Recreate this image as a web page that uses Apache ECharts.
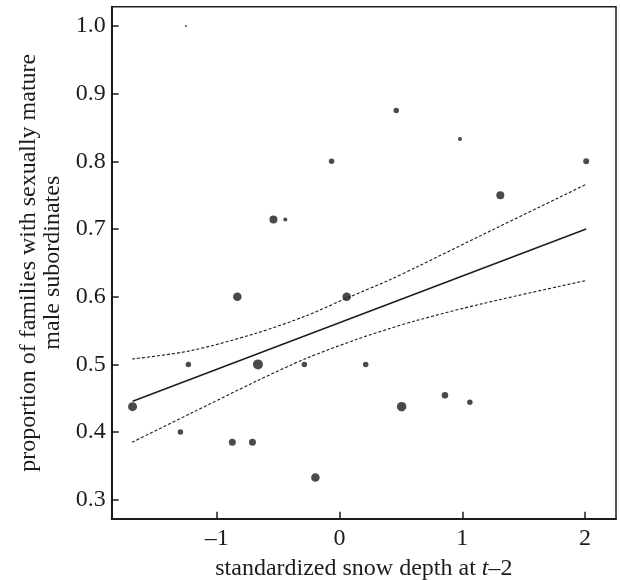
<!DOCTYPE html>
<html>
<head>
<meta charset="utf-8">
<script src="https://cdn.jsdelivr.net/npm/echarts@6/dist/echarts.min.js"></script>
<style>html,body{margin:0;padding:0;background:#fff}#c{width:620px;height:580px}</style>
</head>
<body>
<div id="c"></div>
<script>
// observed points: standardized snow depth (x), proportion (y), marker size (sample weight)
var xs = [-1.252, 0.462, 0.981, -0.065, 2.01, 1.31, -0.539, -0.442, -0.833, 0.058, -1.232, -0.665, -0.287, 0.213, -1.687, 0.506, 0.859, 1.062, -1.297, -0.874, -0.710, -0.197];
var ys = [1.0, 0.875, 0.833, 0.80, 0.80, 0.75, 0.714, 0.714, 0.60, 0.60, 0.50, 0.50, 0.50, 0.50, 0.4375, 0.4375, 0.4545, 0.444, 0.40, 0.385, 0.385, 0.333];
var sizes = [2, 5.5, 4, 5.5, 6, 8, 8, 4, 8.5, 8.5, 5.5, 10, 5.5, 5.5, 9, 9.5, 6.5, 5.5, 5.5, 7, 7, 8.5];
// fitted line
var fitX = [-1.686, 2.01];
var fitY = [0.4455, 0.700];
// confidence band
var upX = [-1.69, -1.22, -0.68, -0.27, 0.06, 0.41, 0.63, 1.17, 2.01];
var upY = [0.508, 0.520, 0.546, 0.572, 0.598, 0.625, 0.644, 0.692, 0.766];
var loX = [-1.69, -1.22, -0.68, -0.27, 0.14, 0.41, 0.63, 1.17, 2.01];
var loY = [0.385, 0.427, 0.475, 0.509, 0.537, 0.553, 0.565, 0.590, 0.624];
var xTicks = [-1, 0, 1, 2];
var yTicks = [0.3, 0.4, 0.5, 0.6, 0.7, 0.8, 0.9, 1.0];

function zip(a, b) { return a.map(function (v, i) { return [v, b[i]]; }); }
var ink = '#1f1b1c';
var font = 'Liberation Serif';

var chart = echarts.init(document.getElementById('c'), null, {renderer: 'canvas'});
chart.setOption({
  animation: false,
  backgroundColor: '#fff',
  grid: {left: 111.7, right: 4, top: 6.7, bottom: 61.3, containLabel: false, outerBoundsMode: 'none',
    show: true, borderColor: ink, borderWidth: 1.5, backgroundColor: 'transparent'},
  xAxis: {
    type: 'value', min: -1.857, max: 2.253,
    name: 'standardized snow depth at {i|t}\u20132',
    nameLocation: 'middle', nameGap: 30,
    nameTextStyle: {fontFamily: font, fontSize: 24, color: ink, lineHeight: 26,
      rich: {i: {fontFamily: font, fontSize: 24, fontStyle: 'italic', color: ink, lineHeight: 26}}},
    axisLine: {show: true, onZero: false, lineStyle: {color: ink, width: 2}},
    axisTick: {show: true, inside: true, length: 7, customValues: xTicks, lineStyle: {color: ink, width: 1.5}},
    axisLabel: {customValues: xTicks, margin: 8, fontFamily: font, fontSize: 24, color: ink,
      formatter: function (v) { return v < 0 ? '\u2013' + Math.abs(v) : String(v); }},
    splitLine: {show: false}
  },
  yAxis: {
    type: 'value', min: 0.272, max: 1.0285,
    name: 'proportion of families with sexually mature\nmale subordinates',
    nameLocation: 'middle', nameGap: 46, nameRotate: 90,
    nameTextStyle: {fontFamily: font, fontSize: 24, color: ink, lineHeight: 24},
    axisLine: {show: true, onZero: false, lineStyle: {color: ink, width: 2}},
    axisTick: {show: true, inside: true, length: 7, customValues: yTicks, lineStyle: {color: ink, width: 1.5}},
    axisLabel: {customValues: yTicks, margin: 6, fontFamily: font, fontSize: 24, color: ink,
      formatter: function (v) { return v.toFixed(1); }},
    splitLine: {show: false}
  },
  series: [
    {type: 'line', data: zip(upX, upY), smooth: 0.3, symbol: 'none',
      lineStyle: {color: ink, width: 1.1, type: [3, 2]}, z: 2},
    {type: 'line', data: zip(loX, loY), smooth: 0.3, symbol: 'none',
      lineStyle: {color: ink, width: 1.1, type: [3, 2]}, z: 2},
    {type: 'line', data: zip(fitX, fitY), symbol: 'none',
      lineStyle: {color: ink, width: 1.4}, z: 2},
    {type: 'scatter', data: xs.map(function (x, i) { return [x, ys[i], sizes[i]]; }),
      symbol: 'circle', symbolSize: function (v) { return v[2]; },
      itemStyle: {color: ink}, z: 3}
  ]
});
</script>
</body>
</html>
